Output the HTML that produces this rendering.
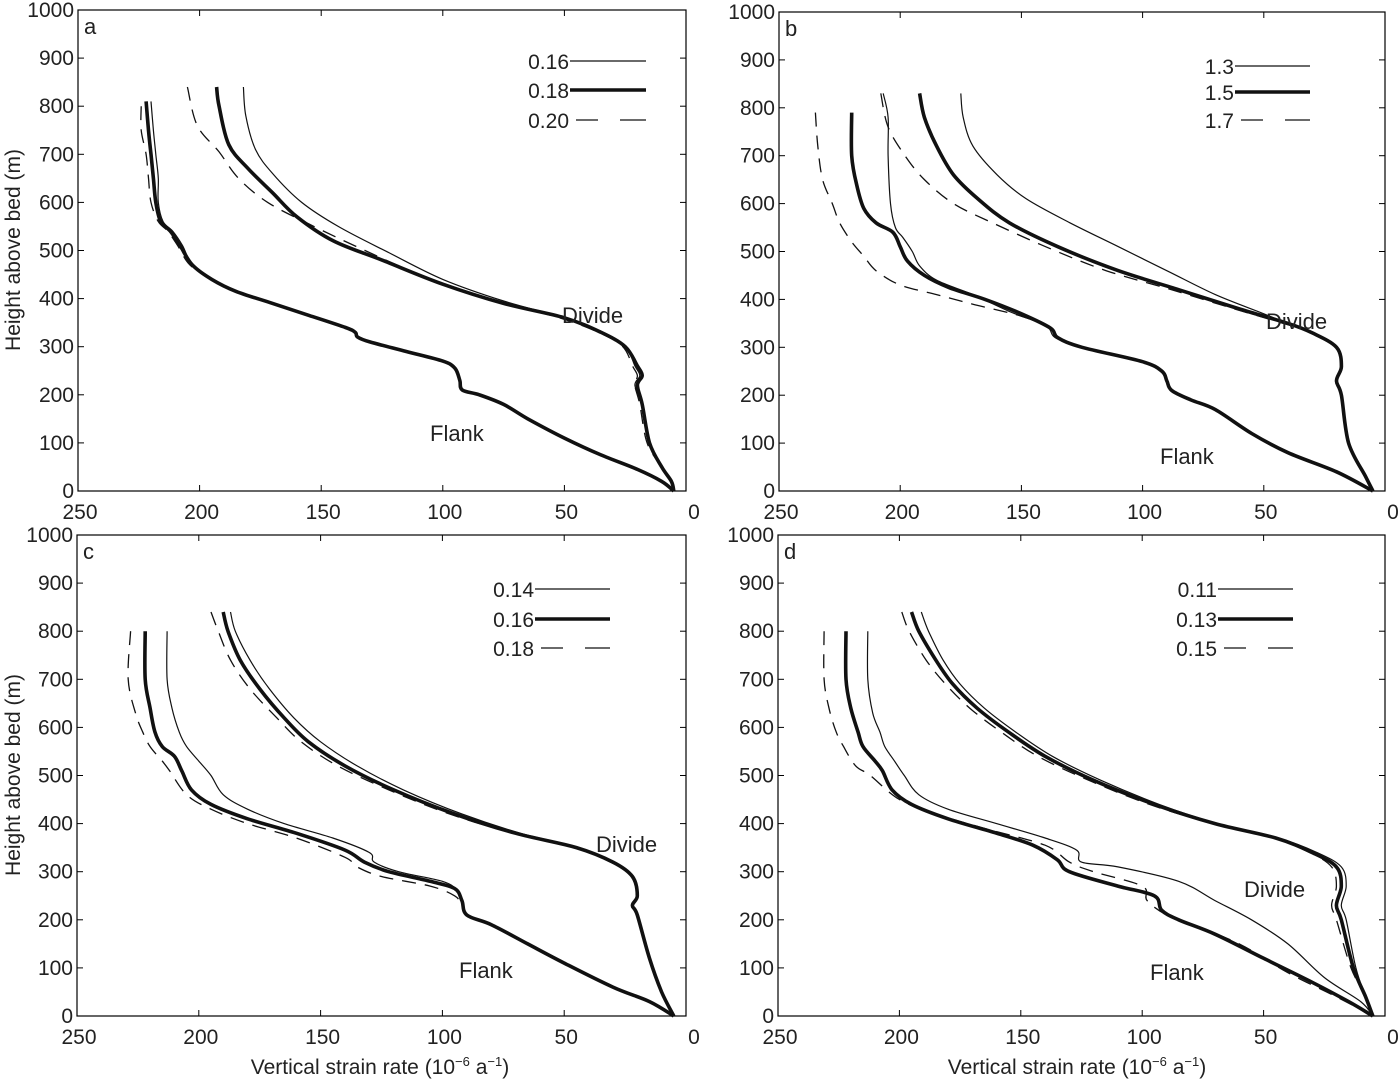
<!DOCTYPE html>
<html><head><meta charset="utf-8"><style>
body{margin:0;background:#fff;}
svg{display:block;font-family:"Liberation Sans",sans-serif;}
</style></head><body>
<svg id="fig" width="1400" height="1080" viewBox="0 0 1400 1080"></svg>
<script>
// ---- data: [strain (1e-6 a^-1), height (m)] ----
const xTicks=[250,200,150,100,50,0];
const yTicks=[0,100,200,300,400,500,600,700,800,900,1000];
const legendA=["0.16","0.18","0.20"];
const legendB=["1.3","1.5","1.7"];
const legendC=["0.14","0.16","0.18"];
const legendD=["0.11","0.13","0.15"];

const aFlankThick=[[222,810],[221,750],[220,700],[219,650],[218,600],[216,560],[212,540],[208,510],[203,470],[195,440],[185,415],[170,390],[155,365],[140,340],[136,330],[135,320],[130,310],[115,290],[100,270],[95,255],[93,230],[92,210],[85,200],[75,180],[65,150],[50,110],[35,75],[20,45],[10,20],[5,0]];
const aFlankThin=[[220,810],[219,750],[218,700],[217,650],[217,600],[215,560],[211,540],[207,510],[203,470],[195,440],[185,415],[170,390],[155,365],[140,340],[136,330],[135,320],[130,310],[115,290],[100,270],[95,255],[93,230],[92,210],[85,200],[75,180],[65,150],[50,110],[35,75],[20,45],[10,20],[5,0]];
const aFlankDash=[[224,800],[224,750],[222,700],[221,650],[220,600],[217,560],[213,540],[209,510],[204,470],[195,440],[185,415],[170,390],[155,365],[140,340],[136,330],[135,320],[130,310],[115,290],[100,270],[95,255],[93,230],[92,210],[85,200],[75,180],[65,150],[50,110],[35,75],[20,45],[10,20],[5,0]];
const aDivThick=[[193,840],[192,800],[188,720],[180,670],[170,620],[160,570],[145,520],[125,480],[100,430],[75,390],[50,360],[35,330],[25,300],[20,260],[18,240],[20,220],[18,180],[15,100],[10,50],[6,20],[5,0]];
const aDivThin=[[182,840],[181,780],[177,710],[170,660],[158,600],[143,550],[122,495],[100,440],[75,395],[50,360],[35,330],[25,300],[21,260],[19,240],[21,220],[18,180],[15,100],[10,50],[6,20],[5,0]];
const aDivDash=[[205,840],[201,760],[192,705],[184,650],[172,600],[155,555],[132,500],[105,440],[78,395],[52,360],[36,330],[26,300],[22,260],[20,240],[21,220],[19,180],[16,100],[10,50],[6,20],[5,0]];

const bFlankThick=[[220,790],[220,700],[218,640],[215,590],[210,560],[203,540],[200,510],[197,480],[190,450],[180,425],[165,400],[150,370],[138,340],[135,320],[125,300],[100,270],[92,250],[90,230],[88,210],[80,190],[70,170],[55,120],[40,80],[20,40],[5,0]];
const bFlankThin=[[207,830],[205,780],[205,700],[204,600],[202,550],[199,530],[195,500],[192,470],[185,440],[170,410],[155,375],[140,345],[136,320],[125,300],[100,270],[92,250],[90,230],[88,210],[80,190],[70,170],[55,120],[40,80],[20,40],[5,0]];
const bFlankDash=[[235,790],[234,720],[232,650],[228,600],[225,560],[220,520],[215,490],[210,460],[200,430],[185,410],[170,390],[150,365],[138,340],[135,320],[125,300],[100,270],[92,250],[90,230],[88,210],[80,190],[70,170],[55,120],[40,80],[20,40],[5,0]];
const bDivThick=[[192,830],[190,780],[185,720],[178,660],[168,610],[155,560],[135,510],[110,460],[85,420],[60,380],[40,350],[30,330],[20,300],[18,260],[20,230],[18,200],[15,100],[8,30],[5,0]];
const bDivThin=[[175,830],[174,780],[170,720],[160,660],[148,610],[130,560],[110,510],[90,460],[70,410],[50,370],[38,345],[28,325],[20,300],[18,260],[20,230],[18,200],[15,100],[8,30],[5,0]];
const bDivDash=[[208,830],[205,760],[198,700],[190,650],[178,600],[162,560],[140,510],[115,460],[88,420],[62,380],[42,350],[30,330],[20,300],[18,260],[20,230],[18,200],[15,100],[8,30],[5,0]];

const cFlankThick=[[222,800],[222,700],[220,640],[218,590],[215,560],[210,540],[207,510],[203,470],[195,440],[180,410],[160,380],[140,345],[132,320],[122,300],[105,280],[95,265],[92,240],[90,210],[80,190],[65,150],[50,110],[30,60],[15,30],[5,0]];
const cFlankThin=[[213,800],[213,700],[211,640],[208,590],[205,560],[200,530],[195,500],[190,460],[180,430],[165,400],[145,370],[130,340],[128,320],[118,300],[100,280],[94,262],[92,240],[90,210],[80,190],[65,150],[50,110],[30,60],[15,30],[5,0]];
const cFlankDash=[[228,800],[229,700],[226,630],[223,590],[220,560],[215,530],[212,510],[205,460],[195,430],[180,400],[160,370],[140,330],[135,310],[125,290],[105,270],[95,250],[92,230],[90,210],[80,190],[65,150],[50,110],[30,60],[15,30],[5,0]];
const cDivThick=[[190,840],[188,800],[183,740],[175,680],[165,620],[155,570],[140,520],[120,470],[95,420],[70,380],[45,350],[30,320],[22,290],[20,250],[22,230],[20,210],[15,120],[10,50],[5,0]];
const cDivThin=[[187,840],[185,800],[179,740],[171,680],[161,620],[150,570],[135,520],[116,470],[92,420],[68,380],[44,350],[30,320],[22,290],[20,250],[22,230],[20,210],[15,120],[10,50],[5,0]];
const cDivDash=[[195,840],[192,800],[187,740],[179,680],[168,620],[158,570],[143,520],[122,470],[97,420],[71,380],[46,350],[31,320],[22,290],[20,250],[22,230],[20,210],[15,120],[10,50],[5,0]];

const dFlankThick=[[222,800],[222,700],[220,640],[217,590],[215,560],[210,530],[207,510],[203,470],[195,440],[180,410],[160,380],[145,355],[135,325],[130,300],[110,270],[95,250],[92,220],[85,200],[70,170],[50,120],[30,70],[15,30],[5,0]];
const dFlankThin=[[213,800],[213,700],[211,630],[208,590],[206,560],[202,530],[198,500],[192,460],[180,430],[160,400],[140,370],[127,345],[125,320],[110,310],[85,280],[70,240],[55,200],[40,150],[25,80],[10,30],[5,0]];
const dFlankDash=[[231,800],[231,700],[229,640],[226,590],[223,560],[218,520],[212,500],[200,450],[185,420],[165,390],[140,355],[130,320],[120,300],[100,270],[98,240],[90,210],[80,190],[60,150],[40,90],[20,40],[5,0]];
const dDivThick=[[195,840],[192,800],[185,740],[178,690],[168,640],[155,590],[140,540],[120,490],[95,440],[70,400],[45,370],[30,340],[20,310],[18,270],[20,230],[18,200],[13,100],[8,40],[5,0]];
const dDivThin=[[191,840],[188,800],[182,740],[175,690],[165,640],[152,590],[137,540],[117,490],[93,440],[69,400],[44,370],[28,340],[18,310],[16,270],[18,230],[16,200],[12,100],[8,40],[5,0]];
const dDivDash=[[199,840],[196,800],[189,740],[181,690],[171,640],[158,590],[143,540],[122,490],[97,440],[71,400],[46,370],[31,340],[22,310],[20,270],[22,230],[20,200],[14,100],[8,40],[5,0]];

const NS="http://www.w3.org/2000/svg";
const svg=document.getElementById('fig');
function mk(tag,attrs,parent){const e=document.createElementNS(NS,tag);for(const k in attrs)e.setAttribute(k,attrs[k]);(parent||svg).appendChild(e);return e;}
function smooth(pts){
 let d='M'+pts[0][0].toFixed(1)+','+pts[0][1].toFixed(1);
 for(let i=0;i<pts.length-1;i++){
  const p0=pts[Math.max(0,i-1)],p1=pts[i],p2=pts[i+1],p3=pts[Math.min(pts.length-1,i+2)];
  const c1x=p1[0]+(p2[0]-p0[0])/6,c1y=p1[1]+(p2[1]-p0[1])/6;
  const c2x=p2[0]-(p3[0]-p1[0])/6,c2y=p2[1]-(p3[1]-p1[1])/6;
  d+=' C'+c1x.toFixed(1)+','+c1y.toFixed(1)+' '+c2x.toFixed(1)+','+c2y.toFixed(1)+' '+p2[0].toFixed(1)+','+p2[1].toFixed(1);
 }
 return d;
}

const panels=[
 {id:'a',x0:78,x1:686,y0:491,y1:10,leg:legendA,lx:570,lw:76,ly:[61,90,120],series:[aFlankThin,aFlankThick,aFlankDash,aDivThin,aDivThick,aDivDash],div:[562,315],fl:[430,433]},
 {id:'b',x0:779,x1:1385,y0:491,y1:12,leg:legendB,lx:1235,lw:75,ly:[66,92,120],series:[bFlankThin,bFlankThick,bFlankDash,bDivThin,bDivThick,bDivDash],div:[1266,321],fl:[1160,456]},
 {id:'c',x0:77,x1:686,y0:1016,y1:535,leg:legendC,lx:535,lw:75,ly:[589,619,648],series:[cFlankThin,cFlankThick,cFlankDash,cDivThin,cDivThick,cDivDash],div:[596,844],fl:[459,970]},
 {id:'d',x0:778,x1:1385,y0:1016,y1:535,leg:legendD,lx:1218,lw:75,ly:[589,619,648],series:[dFlankThin,dFlankThick,dFlankDash,dDivThin,dDivThick,dDivDash],div:[1244,889],fl:[1150,972]}
];
const styles=[{w:1.2,d:''},{w:3.6,d:''},{w:1.3,d:'14,9'}];

panels.forEach(p=>{
 const g=mk('g',{});
 
 
 const sx=v=>p.x0+(250-v)/250*(p.x1-p.x0);
 const sy=v=>p.y0-v/1000*(p.y0-p.y1);
 const box=mk('rect',{x:p.x0,y:p.y1,width:p.x1-p.x0,height:p.y0-p.y1,fill:'none',stroke:'#000','stroke-width':1.2},g);
 
 
 xTicks.forEach(t=>{
  const x=sx(t);
  mk('line',{x1:x,x2:x,y1:p.y0,y2:p.y0-6,stroke:'#000'},g);
  mk('line',{x1:x,x2:x,y1:p.y1,y2:p.y1+6,stroke:'#000'},g);
  const tx=mk('text',{x:x+(t==0?8:2),y:p.y0+28,'font-size':21,'text-anchor':'middle',fill:'#222'},g);
  tx.textContent=t;
  
  
 });
 yTicks.forEach(t=>{
  const y=sy(t);
  mk('line',{x1:p.x0,x2:p.x0+6,y1:y,y2:y,stroke:'#000'},g);
  mk('line',{x1:p.x1,x2:p.x1-6,y1:y,y2:y,stroke:'#000'},g);
  const ty=mk('text',{x:p.x0-4,y:y+7,'font-size':21,'text-anchor':'end',fill:'#222'},g);
  ty.textContent=t;
  
  
 });
 const lt=mk('text',{x:p.x0+6,y:p.y1+24,'font-size':22,fill:'#222'},g);
 lt.textContent=p.id;
 
 
 p.series.forEach((s,i)=>{
  const st=styles[i%3];
  const pl=mk('path',{d:smooth(s.map(q=>[sx(q[0]),sy(q[1])])),fill:'none',stroke:'#111','stroke-width':st.w,'stroke-linejoin':'round'},g);
  if(st.d)pl.setAttribute('stroke-dasharray',st.d);
  
  
 });
 p.leg.forEach((l,i)=>{
  const st=styles[i];
  const y=p.ly[i];
  const ll=mk('line',{x1:p.lx,x2:p.lx+p.lw,y1:y,y2:y,stroke:'#111','stroke-width':st.w},g);
  if(st.d){ll.setAttribute('stroke-dasharray','0,6,22,22,26');}
  
  
  const lx=mk('text',{x:p.lx-1,y:y+8,'font-size':21,'text-anchor':'end',fill:'#222'},g);
  lx.textContent=l;
  
  
 });
 const dv=mk('text',{x:p.div[0],y:p.div[1]+8,'font-size':22,fill:'#222'},g);
 dv.textContent='Divide';
 
 
 const fl=mk('text',{x:p.fl[0],y:p.fl[1]+8,'font-size':22,fill:'#222'},g);
 fl.textContent='Flank';
 
 
});
[250,775].forEach(v=>{
 const t=mk('text',{x:20,y:v,'font-size':21,'text-anchor':'middle',fill:'#222',transform:'rotate(-90 20 '+v+')'});
 t.textContent='Height above bed (m)';
 
 
});
[380,1077].forEach(x=>{
 const t=mk('text',{x:x,y:1074,'font-size':21,'text-anchor':'middle',fill:'#222'});
 t.innerHTML='Vertical strain rate (10<tspan dy="-8" font-size="13">−6</tspan><tspan dy="8"> a</tspan><tspan dy="-8" font-size="13">−1</tspan><tspan dy="8">)</tspan>';
 
 
});
</script>
</body></html>
